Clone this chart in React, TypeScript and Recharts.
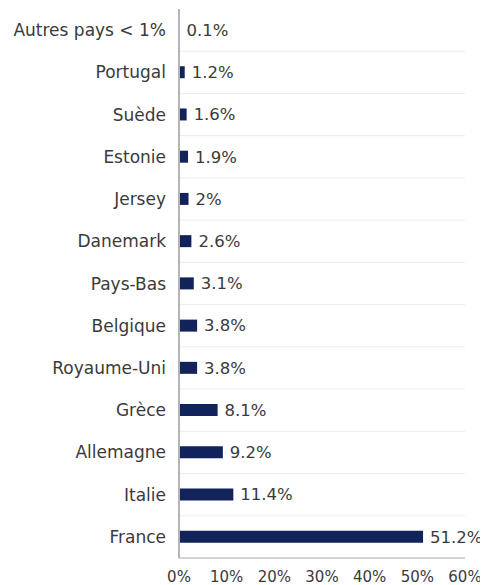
import React from "react";
import { BarChart, Bar, XAxis, YAxis, CartesianGrid, LabelList } from "recharts";

const countries = [
  "Autres pays < 1%",
  "Portugal",
  "Suède",
  "Estonie",
  "Jersey",
  "Danemark",
  "Pays-Bas",
  "Belgique",
  "Royaume-Uni",
  "Grèce",
  "Allemagne",
  "Italie",
  "France",
];
const shares = [0.1, 1.2, 1.6, 1.9, 2, 2.6, 3.1, 3.8, 3.8, 8.1, 9.2, 11.4, 51.2];
const xTicks = [0, 10, 20, 30, 40, 50, 60];

const data = countries.map((name, i) => ({ name, value: shares[i] }));

const FONT = "'DejaVu Sans', sans-serif";

export default function App() {
  return (
    <div style={{ fontFamily: FONT }}>
      <BarChart
        width={480}
        height={585}
        data={data}
        layout="vertical"
        margin={{ top: 1, right: 23, bottom: 8, left: 0 }}
      >
        <CartesianGrid
          vertical={false}
          stroke="#ececec"
          horizontalCoordinatesGenerator={({ offset }: any) => {
            const n = countries.length;
            const step = offset.height / n;
            const arr: number[] = [];
            for (let i = 1; i < n; i++) arr.push(offset.top + step * i);
            return arr;
          }}
        />
        <XAxis
          type="number"
          domain={[0, 60]}
          ticks={xTicks}
          tickFormatter={(v: number) => `${v}%`}
          tickLine={false}
          tickSize={0}
          tickMargin={13}
          height={27}
          axisLine={{ stroke: "#c4c4c4", strokeWidth: 1.5 }}
          tick={{ fill: "#3a3a3a", fontSize: 15, fontFamily: FONT }}
          interval={0}
        />
        <YAxis
          type="category"
          dataKey="name"
          width={171}
          tickLine={false}
          tickSize={0}
          tickMargin={13}
          axisLine={{ stroke: "#b4b4b4", strokeWidth: 2 }}
          tick={{ fill: "#3a3a3a", fontSize: 17, fontFamily: FONT }}
          interval={0}
        />
        <Bar dataKey="value" fill="#12235c" barSize={12} isAnimationActive={false}>
          <LabelList
            dataKey="value"
            position="right"
            offset={7}
            formatter={(v: any) => `${v}%`}
            style={{ fill: "#3a3a3a", fontSize: 16.5, fontFamily: FONT }}
          />
        </Bar>
      </BarChart>
    </div>
  );
}
